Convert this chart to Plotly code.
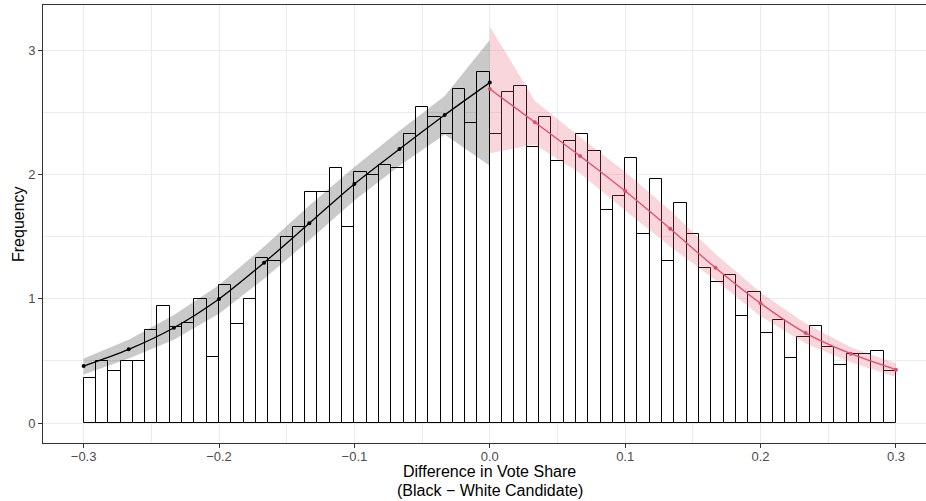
import numpy as np
import plotly.graph_objects as go

# ---------------- data ----------------
bin_start = -0.3
bin_end = 0.3
n_bins = 66

bar_heights = [
    0.36, 0.50, 0.416, 0.50, 0.50, 0.748, 0.941, 0.775, 0.802, 0.998, 0.528,
    1.107, 0.80, 0.998, 1.330, 1.303, 1.494, 1.579, 1.856, 1.856, 2.049, 1.577,
    2.022, 1.993, 2.076, 2.049, 2.325, 2.545, 2.464, 2.325, 2.685, 2.411, 2.824,
    2.325, 2.660, 2.714, 2.218, 2.464, 2.105, 2.271, 2.325, 2.186, 1.716, 1.826,
    2.132, 1.523, 1.966, 1.303, 1.773, 1.523, 1.247, 1.134, 1.191, 0.861, 1.051,
    0.721, 0.831, 0.525, 0.692, 0.778, 0.609, 0.469, 0.553, 0.553, 0.582, 0.416,
]

left_x = [-0.3, -0.2667, -0.2333, -0.2, -0.1667, -0.1333, -0.1, -0.0667, -0.0333, 0.0]
left_fit = [0.459, 0.593, 0.767, 0.998, 1.29, 1.607, 1.923, 2.204, 2.478, 2.738]
left_lo = [0.39, 0.52, 0.67, 0.88, 1.16, 1.47, 1.79, 2.07, 2.32, 2.07]
left_hi = [0.52, 0.67, 0.87, 1.11, 1.42, 1.75, 2.06, 2.35, 2.63, 3.08]

right_x = [0.0, 0.0333, 0.0667, 0.1, 0.1333, 0.1667, 0.2, 0.2333, 0.2667, 0.3]
right_fit = [2.687, 2.419, 2.148, 1.866, 1.563, 1.249, 0.963, 0.724, 0.558, 0.43]
right_lo = [2.17, 2.24, 2.01, 1.71, 1.42, 1.15, 0.86, 0.64, 0.49, 0.37]
right_hi = [3.19, 2.59, 2.30, 2.02, 1.71, 1.36, 1.05, 0.80, 0.61, 0.48]

x_tick_vals = [-0.3, -0.2, -0.1, 0.0, 0.1, 0.2, 0.3]
x_tick_text = ["\u22120.3", "\u22120.2", "\u22120.1", "0.0", "0.1", "0.2", "0.3"]
y_tick_vals = [0, 1, 2, 3]
y_tick_text = ["0", "1", "2", "3"]

x_title_lines = ["Difference in Vote Share", "(Black \u2212 White Candidate)"]
y_title = "Frequency"

# ---------------- figure ----------------
edges = np.linspace(bin_start, bin_end, n_bins + 1)
centers = (edges[:-1] + edges[1:]) / 2
bw = (bin_end - bin_start) / n_bins

FONT = "Liberation Sans, Arial, Helvetica, sans-serif"
RED = "#E64A6B"

fig = go.Figure()

fig.add_trace(go.Bar(
    x=centers, y=bar_heights, width=bw,
    marker=dict(color="white", line=dict(color="black", width=1)),
    showlegend=False, hoverinfo="skip",
))

# ribbons
fig.add_trace(go.Scatter(
    x=left_x + left_x[::-1], y=left_hi + left_lo[::-1],
    fill="toself", fillcolor="rgba(0,0,0,0.21)", line=dict(width=0),
    mode="lines", showlegend=False, hoverinfo="skip",
))
fig.add_trace(go.Scatter(
    x=right_x + right_x[::-1], y=right_hi + right_lo[::-1],
    fill="toself", fillcolor="rgba(230,80,110,0.24)", line=dict(width=0),
    mode="lines", showlegend=False, hoverinfo="skip",
))

# fitted lines
fig.add_trace(go.Scatter(
    x=left_x, y=left_fit, mode="lines+markers",
    line=dict(color="black", width=1.3, shape="spline", smoothing=0.8),
    marker=dict(color="black", size=4),
    showlegend=False,
))
fig.add_trace(go.Scatter(
    x=right_x, y=right_fit, mode="lines+markers",
    line=dict(color=RED, width=1.3, shape="spline", smoothing=0.8),
    marker=dict(color=RED, size=4),
    showlegend=False,
))

fig.update_layout(
    width=926, height=501,
    margin=dict(l=43, r=0, t=5, b=58),
    paper_bgcolor="white", plot_bgcolor="white",
    font=dict(family=FONT, color="black"),
    bargap=0,
    xaxis=dict(
        range=[-0.33, 0.3222],
        tickvals=x_tick_vals, ticktext=x_tick_text,
        showgrid=True, gridcolor="#EBEBEB", gridwidth=1,
        minor=dict(showgrid=True, gridcolor="#EBEBEB", gridwidth=0.5, dtick=0.05, tick0=-0.3),
        zeroline=False,
        showline=True, linecolor="#333333", linewidth=1, mirror=True,
        ticks="outside", ticklen=4, tickcolor="#333333", tickwidth=1,
        ticklabelstandoff=-3,
        tickfont=dict(size=13, color="#4D4D4D", family=FONT),
    ),
    yaxis=dict(
        range=[-0.16, 3.362],
        tickvals=y_tick_vals, ticktext=y_tick_text,
        showgrid=True, gridcolor="#EBEBEB", gridwidth=1,
        minor=dict(showgrid=True, gridcolor="#EBEBEB", gridwidth=0.5, dtick=0.5, tick0=0),
        zeroline=False,
        showline=True, linecolor="#333333", linewidth=1, mirror=False,
        ticks="outside", ticklen=4, tickcolor="#333333", tickwidth=1,
        tickfont=dict(size=13, color="#4D4D4D", family=FONT),
    ),
    annotations=[
        dict(text=x_title_lines[0],
             x=0.0, xref="x", y=0, yref="paper", yanchor="middle", xanchor="center",
             yshift=-28, showarrow=False, font=dict(size=16, color="black", family=FONT)),
        dict(text=x_title_lines[1],
             x=0.0, xref="x", y=0, yref="paper", yanchor="middle", xanchor="center",
             yshift=-47, showarrow=False, font=dict(size=16, color="black", family=FONT)),
        dict(text=y_title, textangle=-90,
             x=0, xref="paper", y=0.5, yref="paper", xanchor="center", yanchor="middle",
             xshift=-25, showarrow=False, font=dict(size=16, color="black", family=FONT)),
    ],
)

fig.write_html(
    "out.html",
    config={"displayModeBar": False},
    post_script="document.body.style.margin='0';document.body.style.padding='0';",
)
